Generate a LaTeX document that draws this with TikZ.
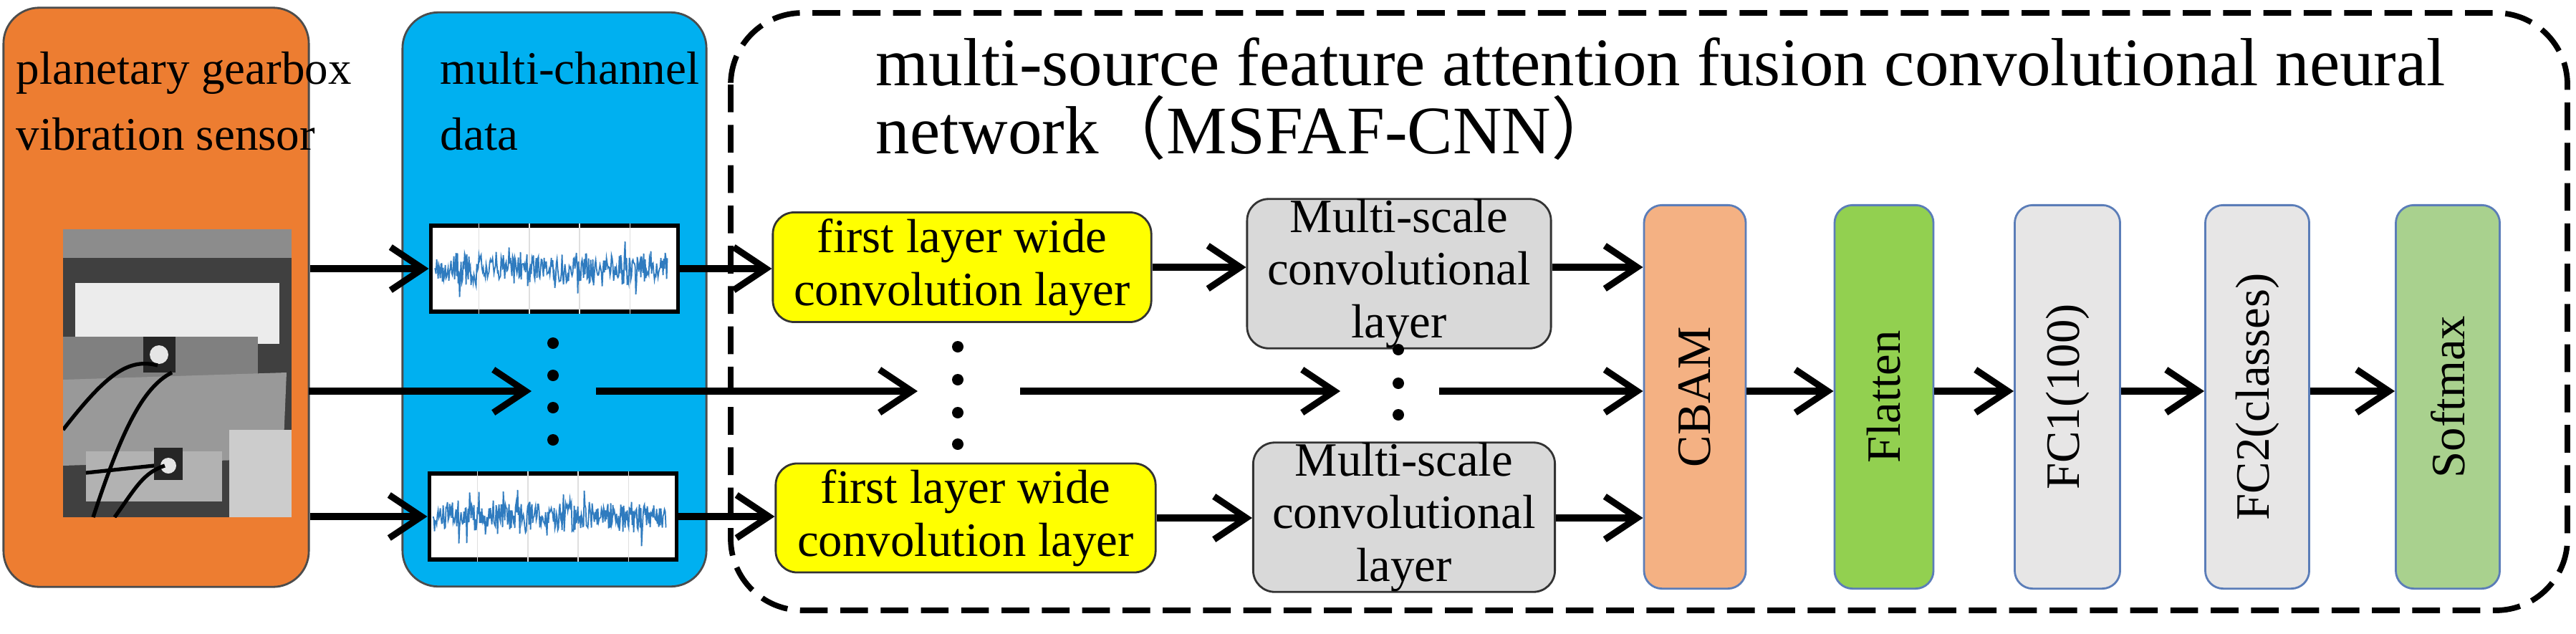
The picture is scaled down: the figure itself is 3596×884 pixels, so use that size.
\documentclass[tikz,border=0pt]{standalone}
\usepackage{fontspec}
\setmainfont{LiberationSerif-Regular.ttf}[BoldFont=LiberationSerif-Bold.ttf]
\newfontfamily\cjk{Noto Sans CJK SC}
\usetikzlibrary{arrows.meta,calc}
\definecolor{orangeb}{HTML}{ED7D31}
\definecolor{blueb}{HTML}{00B0F0}
\definecolor{yel}{HTML}{FFFF00}
\definecolor{grayb}{HTML}{D9D9D9}
\definecolor{cbam}{HTML}{F4B183}
\definecolor{flat}{HTML}{92D050}
\definecolor{fcg}{HTML}{E7E6E6}
\definecolor{soft}{HTML}{A9D18E}
\definecolor{edgeb}{HTML}{5B7DB8}
\definecolor{wave}{HTML}{2F7BBF}
\tikzset{
 x=0.01cm,y=-0.01cm,
 big/.style={rounded corners=0.5cm,draw=black!70,line width=0.8pt},
 conv/.style={draw=black!80,line width=0.8pt,rounded corners=0.3cm,align=center,font=\fontsize{19}{21}\selectfont,inner sep=0pt},
 vbox/.style={draw=edgeb,line width=0.8pt,rounded corners=0.25cm,minimum height=5.35cm,font=\fontsize{19}{21}\selectfont,inner sep=0pt},
 arr/.style={line width=2.6pt,-{Straight Barb[length=4.5mm,width=6mm,line width=2.6pt]}},
 dot/.style={circle,fill=black,inner sep=0pt,minimum size=0.16cm},
 lbl/.style={anchor=north west,align=left,font=\fontsize{18.5}{26}\selectfont,inner sep=0pt},
 wv/.style={draw=black,line width=1.6pt,fill=white,minimum width=3.45cm,minimum height=1.2cm,inner sep=0pt}
}
\begin{document}
\begin{tikzpicture}
\useasboundingbox (0,0) rectangle (3596,884);
% big boxes
\node[big,fill=orangeb,minimum width=4.26cm,minimum height=8.08cm] (src) at (218,415) {};
\node[big,fill=blueb,minimum width=4.24cm,minimum height=8.01cm] (mc) at (774,418) {};
\draw[line width=2.2pt,dash pattern=on 11pt off 5pt,rounded corners=1cm] (1020,18) rectangle (3584,852);
\node[lbl] (srcl) at (22,72) {planetary gearbox\\vibration sensor};
\node[lbl] (mcl) at (614,72) {multi-channel\\data};
\node[anchor=north west,align=left,font=\fontsize{27}{27}\selectfont,inner sep=0pt] (title) at (1222,52)
 {multi-source feature attention fusion convolutional neural\\network{\cjk （}MSFAF-CNN{\cjk ）}};
% photo
\begin{scope}
\clip (88,320) rectangle (407,722);
\fill[black!75] (88,320) rectangle (407,722);
\fill[black!45] (88,320) rectangle (407,360);
\fill[white!85!gray] (105,395) rectangle (390,480);
\fill[white!85!gray] (105,395) arc[x radius=142,y radius=20,start angle=180,end angle=0] -- cycle;
\fill[black!50] (88,470) -- (360,470) -- (360,540) -- (88,540) -- cycle;
\fill[black!40] (88,530) -- (400,520) -- (395,640) -- (88,650) -- cycle;
\fill[black!30] (120,630) rectangle (310,700);
\fill[black!20] (320,600) rectangle (407,722);
\fill[black!85] (200,470) rectangle (245,520);
\fill[gray!20] (222,495) circle[radius=13];
\fill[black!85] (215,625) rectangle (255,670);
\fill[gray!20] (235,650) circle[radius=11];
\draw[black,line width=1.5pt] (88,600) .. controls (150,520) and (180,500) .. (220,510);
\draw[black,line width=1.5pt] (130,722) .. controls (170,600) and (200,540) .. (240,520);
\draw[black,line width=1.5pt] (160,722) .. controls (190,680) and (200,660) .. (230,650);
\draw[black,line width=1.5pt] (120,660) -- (215,650);
\end{scope}
\node[inner sep=0pt,minimum width=3.19cm,minimum height=4.02cm] (photo) at (247,521) {};
% waveforms
\node[wv] (w1) at (774,375) {};
\node[wv] (w2) at (772,721) {};
\foreach \w/\s in {w1/3,w2/7}{
 \begin{scope}
 \clip (\w.south west) rectangle (\w.north east);
 \foreach \k in {1,...,4} \draw[gray!25] ($(\w.west)!\k/5!(\w.east)+(0,-80)$) -- ++(0,160);
 \pgfmathsetseed{\s}
 \draw[wave,line width=0.5pt] ($(\w.west)+(8,0)$)
   \foreach \i in {1,...,325}{ -- ($(\w.west)+(8+\i,{rand*(14+10*abs(sin(\i*2.3)))*(1+0.9*(rand>0.85))})$) };
 \end{scope}}
% dots in blue
\foreach \yy [count=\n] in {479,524,569,614} \node[dot] (bd\n) at (772,\yy) {};
% conv boxes
\node[conv,fill=yel,minimum width=5.28cm,minimum height=1.53cm] (y1) at (1343,373) {first layer wide\\convolution layer};
\node[conv,fill=yel,minimum width=5.30cm,minimum height=1.52cm] (y2) at (1348,723) {first layer wide\\convolution layer};
\node[conv,fill=grayb,minimum width=4.24cm,minimum height=2.07cm] (g1) at (1953,382) {Multi-scale\\convolutional\\layer};
\node[conv,fill=grayb,minimum width=4.21cm,minimum height=2.08cm] (g2) at (1960,722) {Multi-scale\\convolutional\\layer};
\foreach \yy [count=\n] in {484,530,576,620} \node[dot] (yd\n) at (1337,\yy) {};
\foreach \yy [count=\n] in {488,535,579} \node[dot] (gd\n) at (1952,\yy) {};
% vertical boxes
\node[vbox,fill=cbam,minimum width=1.42cm] (cb) at (2366,554) {\rotatebox{90}{CBAM}};
\node[vbox,fill=flat,minimum width=1.38cm] (fl) at (2630,554) {\rotatebox{90}{Flatten}};
\node[vbox,fill=fcg,minimum width=1.47cm] (fc1) at (2886,554) {\rotatebox{90}{FC1(100)}};
\node[vbox,fill=fcg,minimum width=1.45cm] (fc2) at (3151,554) {\rotatebox{90}{FC2(classes)}};
\node[vbox,fill=soft,minimum width=1.45cm] (sm) at (3417,554) {\rotatebox{90}{Softmax}};
% connectors
\coordinate (m0) at (431,546); \coordinate (m1) at (742,546);
\coordinate (m2) at (832,546); \coordinate (m3) at (1281,546);
\coordinate (m4) at (1424,546); \coordinate (m5) at (1871,546);
\coordinate (m6) at (2009,546);
\draw[arr] (src.east |- w1.west) -- (w1.west);
\draw[arr] (src.east |- w2.west) -- (w2.west);
\draw[arr] (m0) -- (m1);
\draw[arr] (m2) -- (m3);
\draw[arr] (m4) -- (m5);
\draw[arr] (m6) -- (m6 -| cb.west);
\draw[arr] (w1.east) -- (y1.west |- w1.east);
\draw[arr] (w2.east) -- (y2.west |- w2.east);
\draw[arr] (y1.east) -- (g1.west |- y1.east);
\draw[arr] (y2.east) -- (g2.west |- y2.east);
\draw[arr] (g1.east |- y1.east) -- (cb.west |- y1.east);
\draw[arr] (g2.east |- y2.east) -- (cb.west |- y2.east);
\draw[arr] (cb.east |- m0) -- (fl.west |- m0);
\draw[arr] (fl.east |- m0) -- (fc1.west |- m0);
\draw[arr] (fc1.east |- m0) -- (fc2.west |- m0);
\draw[arr] (fc2.east |- m0) -- (sm.west |- m0);
\end{tikzpicture}
\end{document}
